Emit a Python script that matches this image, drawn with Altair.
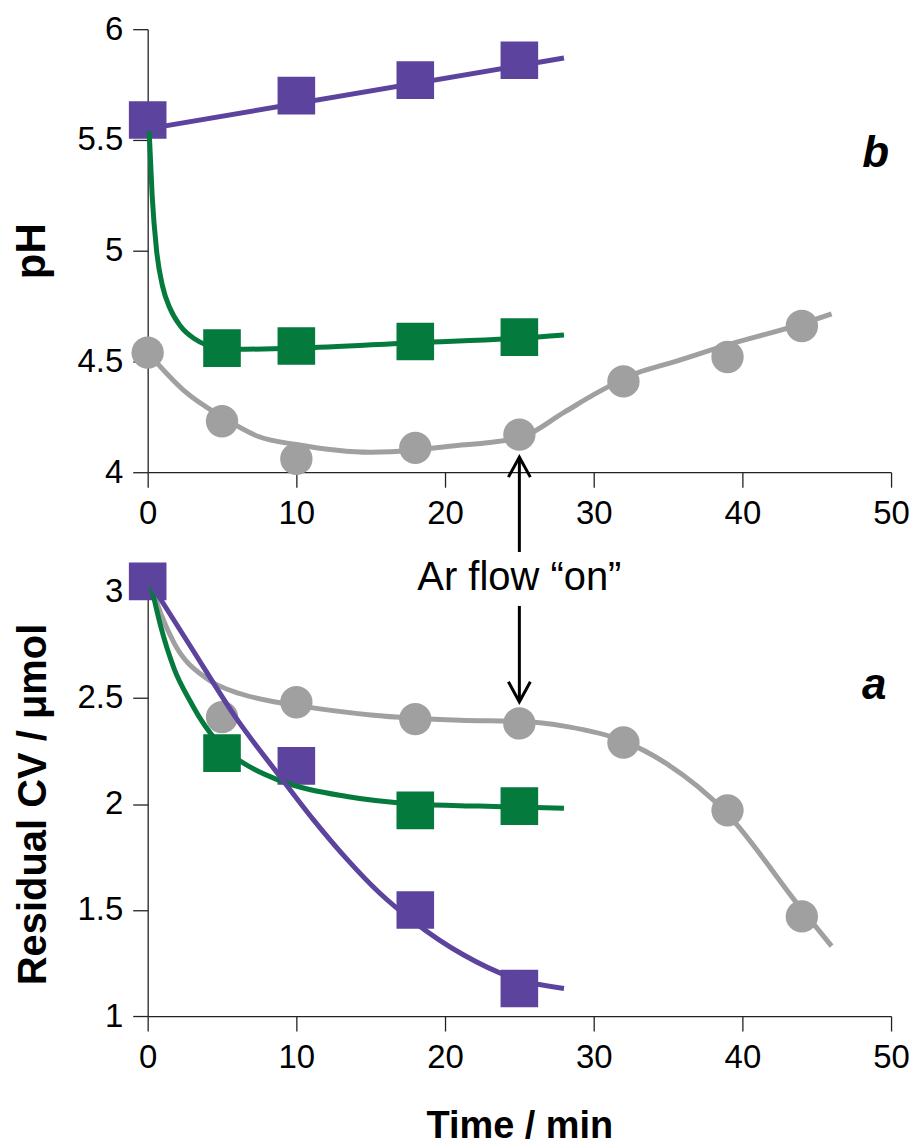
import altair as alt
import pandas as pd

FONT = "Liberation Sans"
PURPLE = "#5B439E"
GREEN = "#057A3D"
GRAY = "#A0A0A0"

# ---------------- panel b : pH ----------------
ph_purple_t = [0, 10, 18, 25]
ph_purple_v = [5.59, 5.70, 5.77, 5.86]
ph_green_t = [5, 10, 18, 25]
ph_green_v = [4.56, 4.57, 4.59, 4.61]
ph_gray_t = [0, 5, 10, 18, 25, 32, 39, 44]
ph_gray_v = [4.54, 4.23, 4.06, 4.11, 4.17, 4.41, 4.52, 4.66]

# fitted curves
ph_purple_fit_t = [0, 28]
ph_purple_fit_v = [5.55, 5.87]
ph_green_fit_t = [0.1, 0.3, 0.6, 1.0, 1.5, 2.2, 3.2, 4.5, 6, 10, 18, 25, 28]
ph_green_fit_v = [5.54, 5.25, 5.0, 4.84, 4.74, 4.66, 4.60, 4.565, 4.555, 4.56, 4.585, 4.605, 4.62]
ph_gray_fit_t = [0, 2.5, 5, 7.5, 10, 15, 18, 20, 25, 28, 30, 33, 35, 39, 44, 46]
ph_gray_fit_v = [4.54, 4.365, 4.25, 4.16, 4.125, 4.09, 4.10, 4.115, 4.155, 4.27, 4.35, 4.45, 4.49, 4.575, 4.67, 4.715]

# ---------------- panel a : residual CV ----------------
cv_purple_t = [0, 10, 18, 25]
cv_purple_v = [3.05, 2.18, 1.50, 1.13]
cv_green_t = [5, 18, 25]
cv_green_v = [2.24, 1.97, 1.99]
cv_gray_t = [5, 10, 18, 25, 32, 39, 44]
cv_gray_v = [2.41, 2.48, 2.40, 2.38, 2.29, 1.97, 1.47]

cv_purple_fit_t = [0.2, 3, 6, 8.9, 11.1, 13.4, 15.6, 17.9, 21.2, 25, 28]
cv_purple_fit_v = [3.04, 2.73, 2.40, 2.13, 1.93, 1.74, 1.58, 1.445, 1.29, 1.17, 1.13]
cv_green_fit_t = [0.2, 0.87, 1.77, 2.9, 3.56, 5.0, 7.0, 8.9, 13.4, 17.9, 22.3, 28]
cv_green_fit_v = [3.04, 2.84, 2.64, 2.48, 2.40, 2.27, 2.17, 2.11, 2.035, 2.00, 1.99, 1.98]
cv_gray_fit_t = [0.2, 0.87, 1.77, 4.0, 6.24, 8.7, 10, 15, 21, 25, 28.2, 31.9, 34.9, 38.9, 43.8, 46]
cv_gray_fit_v = [3.04, 2.90, 2.76, 2.59, 2.52, 2.48, 2.465, 2.42, 2.395, 2.39, 2.365, 2.30, 2.19, 1.96, 1.52, 1.33]

# annotations
arrow_t = [25]
up_arrow_v = [3.64, 4.068]      # pH units (tail, tip)
down_arrow_v = [2.934, 2.482]   # CV units (tail, tip)
ar_text_v = [3.009]
ar_text = ["Ar flow \u201con\u201d"]
label_b = ["b"]
label_b_pos = [48.97, 5.378]
label_a = ["a"]
label_a_pos = [48.86, 2.496]

x_ticks = [0, 10, 20, 30, 40, 50]
ph_ticks = [4, 4.5, 5, 5.5, 6]
cv_ticks = [1, 1.5, 2, 2.5, 3]


def df(t, v):
    return pd.DataFrame({"t": t, "v": v})


axis_style = dict(
    grid=False, domainColor="#222222", domainWidth=1.3, tickColor="#222222",
    tickWidth=1.3, tickSize=15, labelFont=FONT, labelFontSize=33,
    labelColor="black", titleFont=FONT, titleFontWeight="bold",
    titleColor="black", labelFlush=False, labelOverlap=False,
)

W = 745
LW = 5


def panel(points, fits, ydom, yticks, ytitle, ytitle_size, ytitle_pad,
          xtitle, xlab_pad):
    xenc = alt.X("t:Q", scale=alt.Scale(domain=[0, 50], nice=False),
                 axis=alt.Axis(values=x_ticks, title=xtitle, labelPadding=xlab_pad,
                               titleFontSize=38, titlePadding=33, **axis_style))
    yenc = alt.Y("v:Q", scale=alt.Scale(domain=ydom, nice=False, zero=False),
                 axis=alt.Axis(values=yticks, title=ytitle, format="~g",
                               labelPadding=10, titleFontSize=ytitle_size,
                               titlePadding=ytitle_pad, **axis_style))
    layers = []
    for (t, v, color, shape, size) in points:
        layers.append(alt.Chart(df(t, v)).mark_point(
            shape=shape, filled=True, size=size, opacity=1, color=color
        ).encode(x=xenc, y=yenc))
    for (t, v, color, sw) in fits:
        layers.append(alt.Chart(df(t, v)).mark_line(
            color=color, strokeWidth=sw, interpolate="monotone"
        ).encode(x=xenc, y=yenc))
    return layers


# ---- top panel
top_layers = panel(
    points=[(ph_gray_t, ph_gray_v, GRAY, "circle", 1050),
            (ph_green_t, ph_green_v, GREEN, "square", 1420),
            (ph_purple_t, ph_purple_v, PURPLE, "square", 1420)],
    fits=[(ph_gray_fit_t, ph_gray_fit_v, GRAY, LW),
          (ph_green_fit_t, ph_green_fit_v, GREEN, LW),
          (ph_purple_fit_t, ph_purple_fit_v, PURPLE, LW)],
    ydom=[4, 6], yticks=ph_ticks, ytitle="pH", ytitle_size=42, ytitle_pad=24,
    xtitle="", xlab_pad=10)

up_df = pd.DataFrame({"t": arrow_t, "v": [up_arrow_v[0]], "v2": [up_arrow_v[1]]})
top_layers.append(alt.Chart(up_df).mark_rule(color="black", strokeWidth=3).encode(
    x=alt.X("t:Q"), y=alt.Y("v:Q"), y2="v2:Q"))
top_layers.append(alt.Chart(pd.DataFrame({"t": arrow_t, "v": [up_arrow_v[1]]})).mark_point(
    shape="M -0.55 1 L 0 0 L 0.55 1", filled=False, size=1600, strokeWidth=3,
    color="black", opacity=1).encode(x="t:Q", y="v:Q"))
top_layers.append(alt.Chart(pd.DataFrame({"t": [label_b_pos[0]], "v": [label_b_pos[1]], "s": label_b})).mark_text(
    font=FONT, fontSize=44, fontWeight="bold", fontStyle="italic", color="black",
    align="center", baseline="alphabetic").encode(x="t:Q", y="v:Q", text="s:N"))

top = alt.layer(*top_layers).properties(width=W, height=444)

# ---- bottom panel
bot_layers = panel(
    points=[(cv_gray_t, cv_gray_v, GRAY, "circle", 1050),
            (cv_green_t, cv_green_v, GREEN, "square", 1420),
            (cv_purple_t, cv_purple_v, PURPLE, "square", 1420)],
    fits=[(cv_gray_fit_t, cv_gray_fit_v, GRAY, LW),
          (cv_green_fit_t, cv_green_fit_v, GREEN, LW),
          (cv_purple_fit_t, cv_purple_fit_v, PURPLE, LW)],
    ydom=[1, 3], yticks=cv_ticks, ytitle="Residual CV / \u03bcmol", ytitle_size=40,
    ytitle_pad=24, xtitle="Time / min", xlab_pad=11)

down_df = pd.DataFrame({"t": arrow_t, "v": [down_arrow_v[0]], "v2": [down_arrow_v[1]]})
bot_layers.append(alt.Chart(down_df).mark_rule(color="black", strokeWidth=3).encode(
    x=alt.X("t:Q"), y=alt.Y("v:Q"), y2="v2:Q"))
bot_layers.append(alt.Chart(pd.DataFrame({"t": arrow_t, "v": [down_arrow_v[1]]})).mark_point(
    shape="M -0.55 -1 L 0 0 L 0.55 -1", filled=False, size=1600, strokeWidth=3,
    color="black", opacity=1).encode(x="t:Q", y="v:Q"))
bot_layers.append(alt.Chart(pd.DataFrame({"t": arrow_t, "v": ar_text_v, "s": ar_text})).mark_text(
    font=FONT, fontSize=40, color="black", align="center", baseline="alphabetic"
).encode(x="t:Q", y="v:Q", text="s:N"))
bot_layers.append(alt.Chart(pd.DataFrame({"t": [label_a_pos[0]], "v": [label_a_pos[1]], "s": label_a})).mark_text(
    font=FONT, fontSize=44, fontWeight="bold", fontStyle="italic", color="black",
    align="center", baseline="alphabetic").encode(x="t:Q", y="v:Q", text="s:N"))

bottom = alt.layer(*bot_layers).properties(width=W, height=425)

chart = alt.vconcat(top, bottom, spacing=120, bounds="flush").properties(
    padding={"left": 10, "top": 12, "right": 6, "bottom": 0}
).configure(background="white").configure_view(strokeWidth=0, stroke="transparent")

chart.save("out.html", embed_options={"renderer": "svg", "actions": False})
